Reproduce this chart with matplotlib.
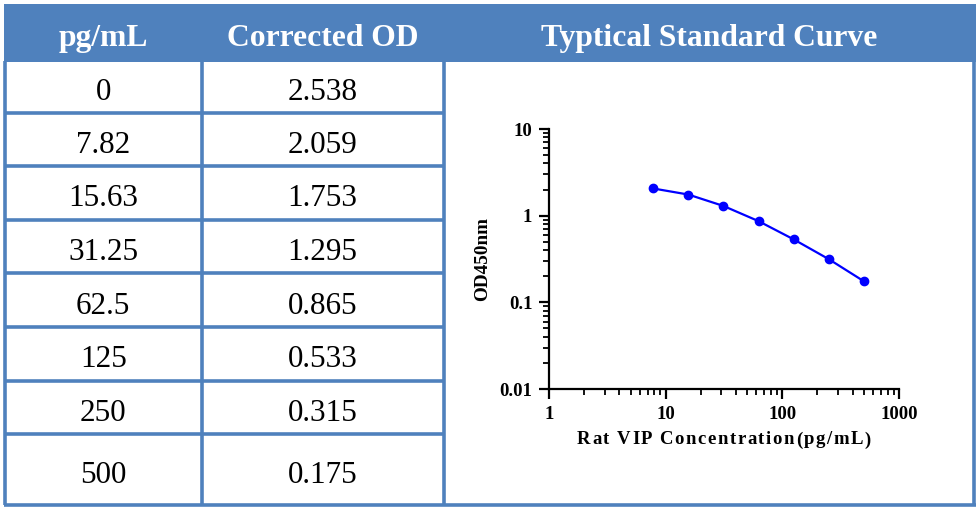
import numpy as np
import matplotlib.pyplot as plt
from matplotlib.patches import Rectangle

conc_labels = ["0", "7.82", "15.63", "31.25", "62.5", "125", "250", "500"]
od_labels = ["2.538", "2.059", "1.753", "1.295", "0.865", "0.533", "0.315", "0.175"]
headers = ["pg/mL", "Corrected OD", "Typtical Standard Curve"]

conc = [7.82, 15.63, 31.25, 62.5, 125, 250, 500]
od = [2.059, 1.753, 1.295, 0.865, 0.533, 0.315, 0.175]

xlabel = "Rat VIP Concentration(pg/mL)"
ylabel = "OD450nm"

BLUE = "#4f81bd"
SERIF = ["Liberation Serif", "DejaVu Serif"]

W, H = 980, 507
fig = plt.figure(figsize=(W / 100, H / 100), dpi=100)

# table overlay in pixel coordinates
tab = fig.add_axes([0, 0, 1, 1])
tab.set_xlim(0, W)
tab.set_ylim(H, 0)
tab.axis("off")

col_x = [5, 201.5, 443.5, 974]
row_y = [61, 112.5, 166, 219.5, 273, 327, 380.5, 434, 505]

# header band
tab.add_patch(Rectangle((col_x[0] - 1.5, 4), col_x[-1] - col_x[0] + 3, 57.5,
                        facecolor=BLUE, edgecolor="none", zorder=1))
hdr_cx = [(col_x[0] + col_x[1]) / 2, (col_x[1] + col_x[2]) / 2, (col_x[2] + col_x[3]) / 2]
for cx, txt in zip(hdr_cx, headers):
    tab.text(cx, 46, txt, color="white", fontsize=22.8, fontweight="bold",
             family=SERIF, ha="center", va="baseline", zorder=3)

lw = 2.6
for y in row_y[1:-1]:
    tab.plot([col_x[0], col_x[2]], [y, y], color=BLUE, lw=lw, solid_capstyle="butt", zorder=2)
tab.plot([col_x[0] - 1.5, col_x[3] + 1.5], [row_y[-1], row_y[-1]], color=BLUE, lw=lw,
         solid_capstyle="butt", zorder=2)
for x in col_x:
    tab.plot([x, x], [row_y[0], row_y[-1]], color=BLUE, lw=lw, solid_capstyle="butt", zorder=2)

for i in range(len(conc_labels)):
    cy = (row_y[i] + row_y[i + 1]) / 2 + 13.5
    tab.text(hdr_cx[0], cy, conc_labels[i], fontsize=22.4, family=SERIF,
             ha="center", va="baseline", zorder=3)
    tab.text(hdr_cx[1], cy, od_labels[i], fontsize=22.4, family=SERIF,
             ha="center", va="baseline", zorder=3)

# standard curve
x0, x1, y0, y1 = 549, 899, 129, 389
ax = fig.add_axes([x0 / W, (H - y1) / H, (x1 - x0) / W, (y1 - y0) / H])
ax.plot(conc, od, color="#0000ff", marker="o", markersize=6, lw=1.6, zorder=3)
ax.set_xscale("log")
ax.set_yscale("log")
ax.set_xlim(1, 1000)
ax.set_ylim(0.01, 10)
ax.spines["top"].set_visible(False)
ax.spines["right"].set_visible(False)
for s in ("left", "bottom"):
    ax.spines[s].set_linewidth(1.6)
ax.set_xticks([1, 10, 100, 1000])
ax.set_xticklabels(["1", "10", "100", "1000"])
ax.set_yticks([0.01, 0.1, 1, 10])
ax.set_yticklabels(["0.01", "0.1", "1", "10"])
ax.tick_params(which="major", direction="out", length=7, width=1.6)
ax.tick_params(which="minor", direction="out", length=4, width=1.3)
ax.tick_params(axis="x", which="major", pad=5)
ax.tick_params(axis="y", which="major", pad=5)
for lab in ax.get_xticklabels() + ax.get_yticklabels():
    lab.set_family(SERIF)
    lab.set_fontweight("bold")
    lab.set_fontsize(13.5)
ax.set_ylabel(ylabel, family=SERIF, fontweight="bold", fontsize=13.8, labelpad=6)

# x label drawn with letter spacing (each char centred in its advance cell)
renderer = fig.canvas.get_renderer()
fs = 13.5
target_w = 294
widths = []
for i in range(len(xlabel) + 1):
    t = tab.text(0, 0, "|" + xlabel[:i] + "|", fontsize=fs, fontweight="bold", family=SERIF)
    widths.append(t.get_window_extent(renderer).width)
    t.remove()
prefix = [w - widths[0] for w in widths]
spacing = max(0.0, (target_w - prefix[-1]) / (len(xlabel) - 1))
start = (x0 + x1) / 2 - target_w / 2
for i, ch in enumerate(xlabel):
    cx = start + (prefix[i] + prefix[i + 1]) / 2 + spacing * i
    tab.text(cx, 444.5, ch, fontsize=fs, fontweight="bold",
             family=SERIF, ha="center", va="baseline", zorder=3)

fig.savefig("out.png", dpi=100)
